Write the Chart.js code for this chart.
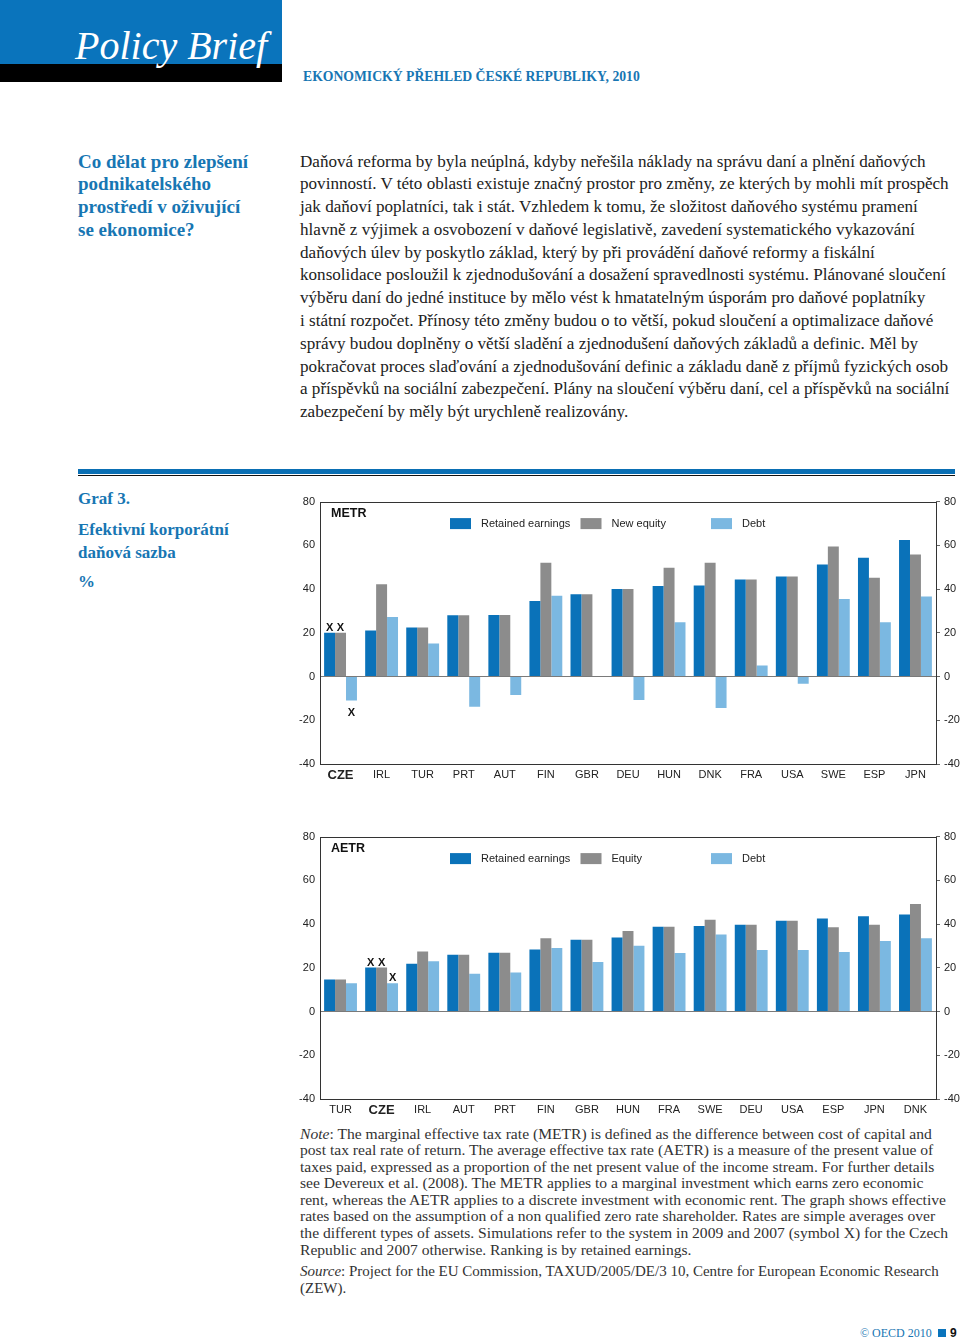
<!DOCTYPE html>
<html>
<head>
<meta charset="utf-8">
<script src="https://cdn.jsdelivr.net/npm/chart.js@4/dist/chart.umd.min.js"></script>
<style>
  html, body { margin: 0; padding: 0; background: #fff; }
  body { width: 960px; height: 1341px; position: relative; overflow: hidden; }
  .abs { position: absolute; white-space: nowrap; }
  .serif { font-family: "Liberation Serif", "Times New Roman", serif; }
  .blue { color: #1776b3; }
  canvas { position: absolute; }
</style>
</head>
<body>

<!-- header -->
<div class="abs" style="left:0;top:0;width:282px;height:64px;background:#0a74bc;"></div>
<div class="abs" style="left:0;top:64px;width:282px;height:18px;background:#000;"></div>
<div class="abs serif" style="left:75px;top:24px;font-size:40px;line-height:44px;font-style:italic;color:#fff;">Policy Brief</div>
<div class="abs serif blue" style="left:303px;top:68px;font-size:13.7px;line-height:18px;font-weight:bold;">EKONOMICKÝ PŘEHLED ČESKÉ REPUBLIKY, 2010</div>

<!-- side heading -->
<div class="abs serif blue" style="left:78px;top:150.5px;font-size:19px;line-height:22.7px;font-weight:bold;">
Co dělat pro zlepšení<br>podnikatelského<br>prostředí v oživující<br>se ekonomice?</div>

<!-- body text -->
<div class="abs serif" style="left:300px;top:150.5px;font-size:17.1px;line-height:22.8px;color:#222;">
Daňová reforma by byla neúplná, kdyby neřešila náklady na správu daní a plnění daňových<br>
povinností. V této oblasti existuje značný prostor pro změny, ze kterých by mohli mít prospěch<br>
jak daňoví poplatníci, tak i stát. Vzhledem k tomu, že složitost daňového systému pramení<br>
hlavně z výjimek a osvobození v daňové legislativě, zavedení systematického vykazování<br>
daňových úlev by poskytlo základ, který by při provádění daňové reformy a fiskální<br>
konsolidace posloužil k zjednodušování a dosažení spravedlnosti systému. Plánované sloučení<br>
výběru daní do jedné instituce by mělo vést k hmatatelným úsporám pro daňové poplatníky<br>
i státní rozpočet. Přínosy této změny budou o to větší, pokud sloučení a optimalizace daňové<br>
správy budou doplněny o větší sladění a zjednodušení daňových základů a definic. Měl by<br>
pokračovat proces slaďování a zjednodušování definic a základu daně z příjmů fyzických osob<br>
a příspěvků na sociální zabezpečení. Plány na sloučení výběru daní, cel a příspěvků na sociální<br>
zabezpečení by měly být urychleně realizovány.</div>

<!-- graph rule and caption -->
<div class="abs" style="left:78px;top:469px;width:877px;height:5px;background:#0a6fb4;"></div>
<div class="abs" style="left:78px;top:474.5px;width:877px;height:1.5px;background:#111;"></div>
<div class="abs serif blue" style="left:78px;top:489px;font-size:17px;line-height:20px;font-weight:bold;">Graf 3.</div>
<div class="abs serif blue" style="left:78px;top:517.5px;font-size:17px;line-height:23px;font-weight:bold;">Efektivní korporátní<br>daňová sazba</div>
<div class="abs serif blue" style="left:78px;top:571px;font-size:17px;line-height:22px;font-weight:bold;">%</div>

<canvas id="metr" width="664" height="300" style="left:296px;top:490px;width:664px;height:300px;"></canvas>
<canvas id="aetr" width="664" height="300" style="left:296px;top:825px;width:664px;height:300px;"></canvas>

<!-- notes -->
<div class="abs serif" style="left:300px;top:1125.7px;font-size:15.6px;line-height:16.55px;color:#333;">
<i>Note</i>: The marginal effective tax rate (METR) is defined as the difference between cost of capital and<br>
post tax real rate of return. The average effective tax rate (AETR) is a measure of the present value of<br>
taxes paid, expressed as a proportion of the net present value of the income stream. For further details<br>
see Devereux et al. (2008). The METR applies to a marginal investment which earns zero economic<br>
rent, whereas the AETR applies to a discrete investment with economic rent. The graph shows effective<br>
rates based on the assumption of a non qualified zero rate shareholder. Rates are simple averages over<br>
the different types of assets. Simulations refer to the system in 2009 and 2007 (symbol X) for the Czech<br>
Republic and 2007 otherwise. Ranking is by retained earnings.</div>
<div class="abs serif" style="left:300px;top:1262.7px;font-size:15px;line-height:17px;color:#333;">
<i>Source</i>: Project for the EU Commission, TAXUD/2005/DE/3 10, Centre for European Economic Research<br>
(ZEW).</div>

<!-- footer -->
<div class="abs serif" style="left:860px;top:1325px;font-size:12px;line-height:16px;color:#1776b3;">© OECD 2010</div>
<div class="abs" style="left:938px;top:1329px;width:8px;height:8px;background:#0a74bc;"></div>
<div class="abs" style="left:950px;top:1325px;font-family:'Liberation Sans',sans-serif;font-size:12px;line-height:16px;font-weight:bold;color:#111;">9</div>

<script>
// METR panel, ranked by retained earnings
const metrCountries = ['CZE','IRL','TUR','PRT','AUT','FIN','GBR','DEU','HUN','DNK','FRA','USA','SWE','ESP','JPN'];
const metrRetained  = [20, 21, 22.4, 28, 28.1, 34.5, 37.6, 40, 41.4, 41.6, 44.4, 45.8, 51.2, 54.3, 62.4];
const metrNewEquity = [20, 42.2, 22.4, 28, 28.1, 52, 37.6, 40, 49.7, 52, 44.4, 45.8, 59.5, 45.2, 55.8];
const metrDebt      = [-11, 27.2, 15.1, -13.8, -8.5, 37, 0, -10.7, 24.8, -14.4, 5.1, -3.3, 35.5, 24.8, 36.6];

// AETR panel
const aetrCountries = ['TUR','CZE','IRL','AUT','PRT','FIN','GBR','HUN','FRA','SWE','DEU','USA','ESP','JPN','DNK'];
const aetrRetained  = [14.7, 20.1, 21.8, 26, 26.9, 28.4, 32.8, 33.8, 38.8, 39.1, 39.7, 41.5, 42.6, 43.6, 44.4];
const aetrEquity    = [14.7, 20.1, 27.4, 26, 26.9, 33.5, 32.8, 36.8, 38.8, 42, 39.7, 41.5, 38.6, 39.7, 49.2];
const aetrDebt      = [12.9, 12.9, 23, 17.3, 17.9, 29, 22.6, 30.1, 26.8, 35.2, 28.1, 28.1, 27.2, 32.3, 33.5];

const yMin = -40, yMax = 80, yStep = 20;

// "X" = 2007 system for the Czech Republic: [dataset, category, side]
const metrMarks = [[0, 0, 'above'], [1, 0, 'above'], [2, 0, 'below']];
const aetrMarks = [[0, 1, 'above'], [1, 1, 'above'], [2, 1, 'above']];

const colRetained = '#0a72b9';
const colEquity = '#8c8c8c';
const colDebt = '#7bb8e1';
const sans = '"Liberation Sans", Arial, sans-serif';

const panelPlugin = {
  id: 'panel',
  afterDraw(chart, args, opts) {
    const { ctx, chartArea: a } = chart;
    ctx.save();
    // frame
    ctx.strokeStyle = '#333';
    ctx.lineWidth = 1;
    ctx.strokeRect(Math.round(a.left) + 0.5, Math.round(a.top) + 0.5, Math.round(a.right - a.left), Math.round(a.bottom - a.top));
    // panel title
    ctx.fillStyle = '#111';
    ctx.textBaseline = 'middle';
    ctx.font = 'bold 12.5px ' + sans;
    ctx.fillText(opts.title, a.left + 11, a.top + 12);
    // legend in plot area
    ctx.font = '11px ' + sans;
    chart.data.datasets.forEach((ds, i) => {
      const x = a.left + 130 + i * 130.5;
      const y = a.top + 22;
      ctx.fillStyle = ds.backgroundColor;
      ctx.fillRect(x, y - 5.5, 21, 11);
      ctx.fillStyle = '#222';
      ctx.fillText(ds.label, x + 31, y + 0.5);
    });
    // X marks
    ctx.font = 'bold 11px ' + sans;
    ctx.textAlign = 'center';
    ctx.fillStyle = '#111';
    (opts.marks || []).forEach(([d, i, side]) => {
      const bar = chart.getDatasetMeta(d).data[i];
      const top = Math.min(bar.y, bar.base), bottom = Math.max(bar.y, bar.base);
      const y = side === 'above' ? top - 5 : bottom + 12;
      ctx.fillText('X', bar.x, y);
    });
    ctx.restore();
  }
};

function makeChart(id, labels, series, names, title, marks, topPad) {
  const colors = [colRetained, colEquity, colDebt];
  return new Chart(document.getElementById(id), {
    type: 'bar',
    data: {
      labels: labels,
      datasets: series.map((s, i) => ({
        label: names[i],
        data: s,
        backgroundColor: colors[i],
        borderWidth: 0,
        categoryPercentage: 0.8,
        barPercentage: 1.0,
        yAxisID: 'y'
      }))
    },
    options: {
      responsive: false,
      animation: false,
      devicePixelRatio: 1,
      layout: { padding: { top: topPad, left: 0, right: 0, bottom: 0 } },
      plugins: {
        legend: { display: false },
        tooltip: { enabled: false },
        panel: { title: title, marks: marks }
      },
      scales: {
        x: {
          grid: { display: false, drawTicks: false },
          border: { display: false },
          ticks: {
            color: '#222',
            padding: 4,
            maxRotation: 0,
            autoSkip: false,
            font: (c) => (c.tick && c.tick.label === 'CZE')
              ? { family: sans, size: 13, weight: 'bold' }
              : { family: sans, size: 11 }
          },
          afterFit: (s) => { s.height = 26; }
        },
        y: {
          position: 'left',
          min: yMin, max: yMax,
          ticks: { stepSize: yStep, color: '#222', padding: 5, font: { family: sans, size: 11 } },
          grid: {
            drawTicks: false,
            color: (c) => c.tick && c.tick.value === 0 ? '#7a7a7a' : 'rgba(0,0,0,0)',
            lineWidth: 1
          },
          border: { display: false },
          afterFit: (s) => { s.width = 24; }
        },
        y2: {
          position: 'right',
          min: yMin, max: yMax,
          ticks: { stepSize: yStep, color: '#222', padding: 4, font: { family: sans, size: 11 } },
          grid: { drawOnChartArea: false, drawTicks: true, tickLength: 4, tickColor: '#666' },
          border: { display: false },
          afterFit: (s) => { s.width = 24; }
        }
      }
    },
    plugins: [panelPlugin]
  });
}

makeChart('metr', metrCountries, [metrRetained, metrNewEquity, metrDebt],
  ['Retained earnings', 'New equity', 'Debt'], 'METR', metrMarks, 9);
makeChart('aetr', aetrCountries, [aetrRetained, aetrEquity, aetrDebt],
  ['Retained earnings', 'Equity', 'Debt'], 'AETR', aetrMarks, 8);
</script>
</body>
</html>
